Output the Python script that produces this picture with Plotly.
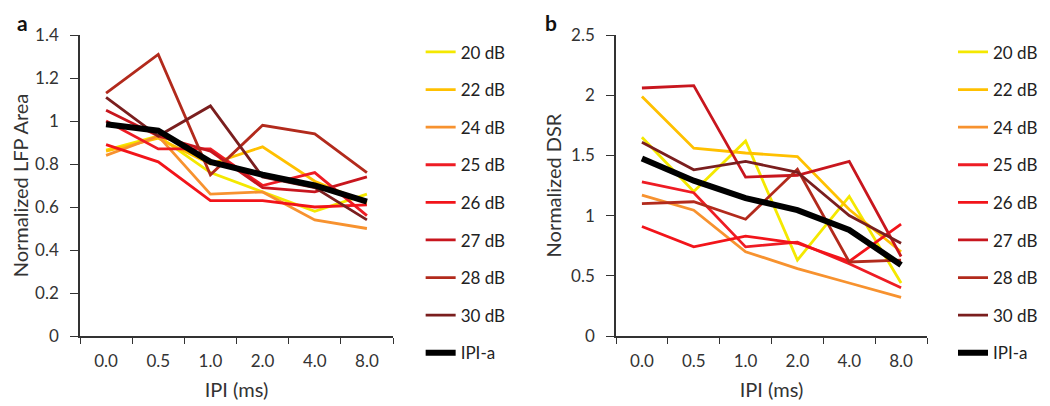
import plotly.graph_objects as go
from plotly.subplots import make_subplots

ipi = ["0.0", "0.5", "1.0", "2.0", "4.0", "8.0"]
labels = ["20 dB", "22 dB", "24 dB", "25 dB", "26 dB", "27 dB", "28 dB", "30 dB", "IPI-a"]
colors = ["#F4E800", "#FFC000", "#F7922F", "#EE1C24", "#F2141A", "#C8161E", "#B22A1C", "#7A1E1E", "#000000"]

# panel a: normalized LFP area
lfp_20 = [0.865, 0.93, 0.76, 0.67, 0.58, 0.66]
lfp_22 = [0.86, 0.92, 0.80, 0.88, 0.72, 0.62]
lfp_24 = [0.84, 0.93, 0.66, 0.67, 0.54, 0.50]
lfp_25 = [1.00, 0.87, 0.87, 0.70, 0.76, 0.56]
lfp_26 = [0.89, 0.81, 0.63, 0.63, 0.60, 0.61]
lfp_27 = [1.05, 0.93, 0.86, 0.69, 0.67, 0.74]
lfp_28 = [1.13, 1.31, 0.75, 0.98, 0.94, 0.76]
lfp_30 = [1.11, 0.93, 1.07, 0.74, 0.69, 0.54]
lfp_avg = [0.985, 0.955, 0.81, 0.75, 0.70, 0.625]

# panel b: normalized DSR
dsr_20 = [1.65, 1.20, 1.62, 0.63, 1.16, 0.44]
dsr_22 = [1.99, 1.56, 1.52, 1.49, 1.05, 0.70]
dsr_24 = [1.17, 1.045, 0.70, 0.56, 0.44, 0.32]
dsr_25 = [1.28, 1.19, 0.74, 0.78, 0.60, 0.40]
dsr_26 = [0.91, 0.74, 0.83, 0.77, 0.62, 0.93]
dsr_27 = [2.06, 2.08, 1.32, 1.335, 1.45, 0.66]
dsr_28 = [1.10, 1.115, 0.97, 1.385, 0.615, 0.63]
dsr_30 = [1.61, 1.38, 1.45, 1.36, 1.00, 0.77]
dsr_avg = [1.475, 1.29, 1.145, 1.045, 0.88, 0.59]

lfp = [lfp_20, lfp_22, lfp_24, lfp_25, lfp_26, lfp_27, lfp_28, lfp_30, lfp_avg]
dsr = [dsr_20, dsr_22, dsr_24, dsr_25, dsr_26, dsr_27, dsr_28, dsr_30, dsr_avg]

FONT = "Lato, Open Sans, sans-serif"
W, H = 1050, 406
OFF = 8  # page body margin in the browser


def px_x(v):
    return (v - OFF) / W


def px_y(v):
    return 1 - (v - OFF) / H


fig = make_subplots(rows=1, cols=2)

for i, name in enumerate(labels):
    w = 6 if name == "IPI-a" else 2.8
    fig.add_trace(go.Scatter(x=ipi, y=lfp[i], mode="lines", name=name,
                             line=dict(color=colors[i], width=w),
                             legend="legend", legendgroup="a" + name), row=1, col=1)
    fig.add_trace(go.Scatter(x=ipi, y=dsr[i], mode="lines", name=name,
                             line=dict(color=colors[i], width=w),
                             legend="legend2", legendgroup="b" + name), row=1, col=2)

xax = dict(type="category", tickson="boundaries", ticks="outside", ticklen=6,
           showline=True, linecolor="#333", linewidth=1.5, tickcolor="#333",
           showgrid=False, range=[-0.5, 5.5], tickfont=dict(size=17, color="#333"),
           automargin=False, ticklabelstandoff=9,
           title=dict(text="IPI (ms)", font=dict(size=20, color="#333"), standoff=13))
fig.update_xaxes(**xax)
fig.update_xaxes(domain=[px_x(80), px_x(393)], row=1, col=1)
fig.update_xaxes(domain=[px_x(616), px_x(927)], row=1, col=2)

yax = dict(ticks="outside", ticklen=8, showline=True, linecolor="#333", linewidth=1.5,
           tickcolor="#333", showgrid=False, zeroline=False,
           domain=[px_y(336), px_y(35)], ticklabelstandoff=8,
           tickfont=dict(size=17, color="#333"), automargin=False)
fig.update_yaxes(**yax)
fig.update_yaxes(range=[0, 1.4], dtick=0.2, row=1, col=1,
                 title=dict(text="Normalized LFP Area", font=dict(size=20, color="#333"), standoff=4))
fig.update_yaxes(range=[0, 2.5], dtick=0.5, row=1, col=2,
                 title=dict(text="Normalized DSR", font=dict(size=20, color="#333"), standoff=4))

leg = dict(yanchor="top", y=0.935, xanchor="left", tracegroupgap=12.5,
           font=dict(size=17, color="#222", family=FONT), itemwidth=30, bgcolor="rgba(0,0,0,0)")
fig.update_layout(
    width=W, height=H, paper_bgcolor="white", plot_bgcolor="white",
    margin=dict(l=0, r=0, t=0, b=0), font=dict(family=FONT, color="#333"),
    legend=dict(x=0.393, **leg), legend2=dict(x=0.9, **leg),
    annotations=[
        dict(text="<b>a</b>", x=px_x(22), y=1, xref="paper", yref="paper",
             xanchor="center", yanchor="top", showarrow=False,
             font=dict(size=21, color="#111")),
        dict(text="<b>b</b>", x=px_x(551), y=1, xref="paper", yref="paper",
             xanchor="center", yanchor="top", showarrow=False,
             font=dict(size=21, color="#111")),
    ],
)

fig.write_html("out.html")
